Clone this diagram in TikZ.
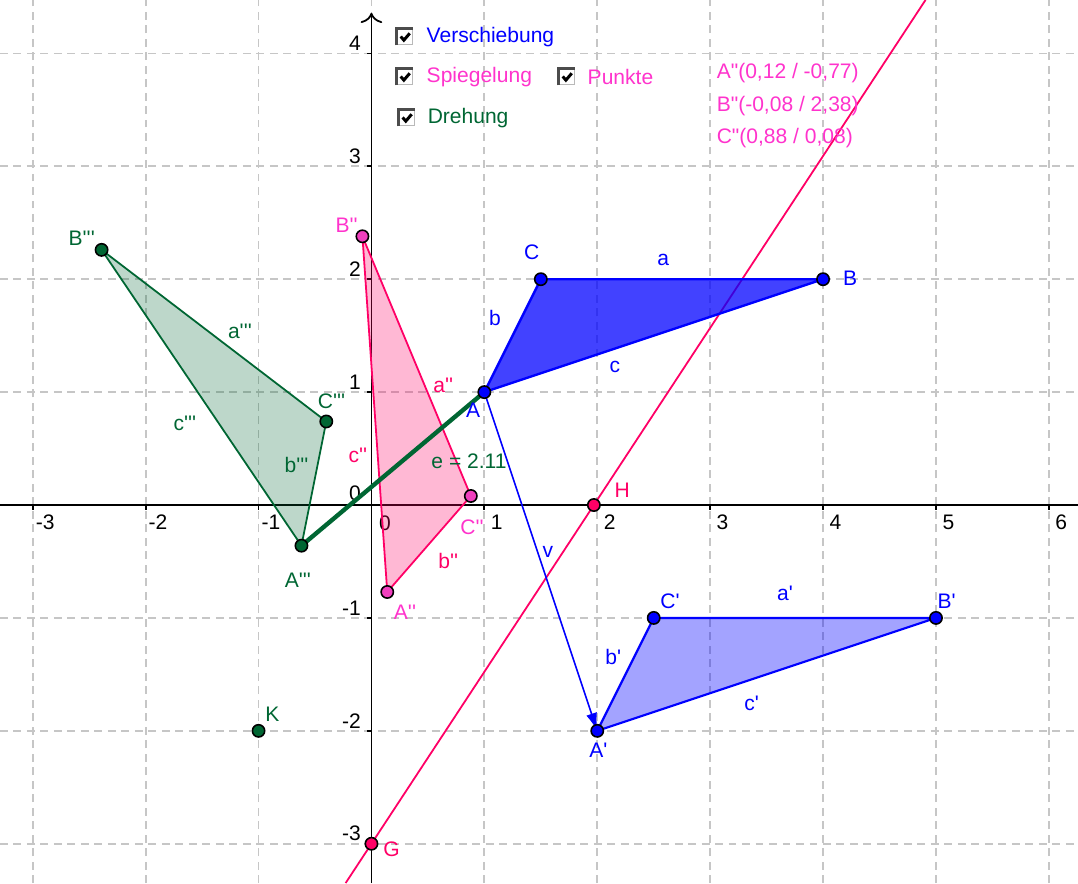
\documentclass[tikz,border=0pt]{standalone}
\usepackage{fontspec}
\setmainfont{Liberation Sans}[Ligatures=TeXOff]
\usetikzlibrary{arrows.meta,calc}

\definecolor{ggblue}{RGB}{0,0,255}
\definecolor{ggmagenta}{RGB}{255,51,204}
\definecolor{ggpoint}{RGB}{240,64,190}
\definecolor{ggcrimson}{RGB}{255,0,102}
\definecolor{gggreen}{RGB}{0,102,51}

\tikzset{
  gridline/.style={gray!45,line width=0.45pt,dash pattern=on 2pt off 1.4pt},
  pt/.style={circle,draw=black,line width=0.4pt,inner sep=0pt,minimum size=3.1pt},
  lbl/.style={inner sep=0.5pt},
  chkbox/.style={draw=gray!55,fill=white,line width=0.4pt,minimum size=0.135cm,inner sep=0pt},
}

\begin{document}
\begin{tikzpicture}[font=\fontsize{5.3}{6.4}\selectfont]
  \useasboundingbox (-3.29,-3.348) rectangle (6.258,4.473);
  % grid and axes
  \foreach \x in {-3,...,6} \draw[gridline] (\x,-3.348)--(\x,4.473);
  \foreach \y in {-3,...,4} \draw[gridline] (-3.29,\y)--(6.258,\y);
  \draw[line width=0.45pt] (-3.29,0)--(6.258,0);
  \draw[line width=0.45pt,->] (0,-3.348)--(0,4.36);
  \foreach \x in {-3,-2,-1,1,2,3,4,5,6} {
    \draw[line width=0.45pt] (\x,0)--(\x,-0.04);
    \node[lbl] (xl\x) at (\x+0.11,-0.15) {\x};
  }
  \foreach \y in {-3,-2,-1,1,2,3,4} {
    \draw[line width=0.45pt] (0,\y)--(-0.04,\y);
    \node[lbl,anchor=east] (yl\y) at (-0.07,\y+0.09) {\y};
  }
  \node[lbl] (xl0) at (0.12,-0.16) {0};
  \node[lbl,anchor=east] (yl0) at (-0.07,0.1) {0};

  % points
  \coordinate (A) at (1,1);       \coordinate (B) at (4,2);      \coordinate (C) at (1.5,2);
  \coordinate (A1) at (2,-2);     \coordinate (B1) at (5,-1);    \coordinate (C1) at (2.5,-1);
  \coordinate (A2) at (0.14,-0.77); \coordinate (B2) at (-0.08,2.38); \coordinate (C2) at (0.88,0.08);
  \coordinate (A3) at (-0.62,-0.36); \coordinate (B3) at (-2.39,2.26); \coordinate (C3) at (-0.40,0.74);
  \coordinate (K) at (-1,-2);
  \coordinate (G) at (0,-3);      \coordinate (H) at (1.97,0);

  % mirror line
  \draw[ggcrimson,line width=0.45pt] ($(G)!-0.116!(H)$)--($(G)!2.491!(H)$);

  % triangles
  \fill[gggreen,opacity=0.26] (A3)--(B3)--(C3)--cycle;
  \draw[gggreen,line width=0.45pt] (A3)--(C3)--(B3)--cycle;
  \fill[ggcrimson,opacity=0.28] (A2)--(B2)--(C2)--cycle;
  \draw[ggcrimson,line width=0.45pt] (A2)--(C2)--(B2)--cycle;
  \fill[ggblue,opacity=0.36] (A1)--(B1)--(C1)--cycle;
  \draw[ggblue,line width=0.55pt] (A1)--(C1)--(B1)--cycle;
  \fill[ggblue,opacity=0.74] (A)--(B)--(C)--cycle;
  \draw[ggblue,line width=0.6pt] (A)--(C)--(B)--cycle;

  % vector v and segment e
  \draw[ggblue,line width=0.4pt,-{Latex[length=4.5pt,width=2.8pt]}] (A)--(A1);
  \draw[gggreen,line width=1.1pt] (A3)--(A);

  % point marks
  \foreach \p in {A,B,C,A1,B1,C1} \node[pt,fill=ggblue] (p\p) at (\p) {};
  \foreach \p in {A2,B2,C2} \node[pt,fill=ggpoint] (p\p) at (\p) {};
  \foreach \p in {A3,B3,C3,K} \node[pt,fill=gggreen] (p\p) at (\p) {};
  \foreach \p in {G,H} \node[pt,fill=ggcrimson] (p\p) at (\p) {};

  % labels blue
  \node[lbl,text=ggblue] (lA) at (0.90,0.84) {A};
  \node[lbl,text=ggblue] (lB) at (4.24,2.01) {B};
  \node[lbl,text=ggblue] (lC) at (1.42,2.24) {C};
  \node[lbl,text=ggblue] (la) at (2.585,2.17) {a};
  \node[lbl,text=ggblue] (lb) at (1.094,1.654) {b};
  \node[lbl,text=ggblue] (lc) at (2.157,1.225) {c};
  \node[lbl,text=ggblue] (lA1) at (2.01,-2.17) {A'};
  \node[lbl,text=ggblue] (lB1) at (5.095,-0.856) {B'};
  \node[lbl,text=ggblue] (lC1) at (2.644,-0.856) {C'};
  \node[lbl,text=ggblue] (la1) at (3.663,-0.782) {a'};
  \node[lbl,text=ggblue] (lb1) at (2.142,-1.344) {b'};
  \node[lbl,text=ggblue] (lc1) at (3.368,-1.757) {c'};
  \node[lbl,text=ggblue] (lv) at (1.563,-0.416) {v};
  % labels pink
  \node[lbl,text=ggmagenta] (lA2) at (0.297,-0.948) {A''};
  \node[lbl,text=ggmagenta] (lB2) at (-0.22,2.48) {B''};
  \node[lbl,text=ggmagenta] (lC2) at (0.89,-0.195) {C''};
  \node[lbl,text=ggcrimson] (la2) at (0.636,1.063) {a''};
  \node[lbl,text=ggcrimson] (lb2) at (0.68,-0.5) {b''};
  \node[lbl,text=ggcrimson] (lc2) at (-0.12,0.443) {c''};
  \node[lbl,text=ggcrimson] (lG) at (0.179,-3.05) {G};
  \node[lbl,text=ggcrimson] (lH) at (2.22,0.133) {H};
  % labels green
  \node[lbl,text=gggreen] (lA3) at (-0.651,-0.664) {A'''};
  \node[lbl,text=gggreen] (lB3) at (-2.566,2.364) {B'''};
  \node[lbl,text=gggreen] (lC3) at (-0.353,0.915) {C'''};
  \node[lbl,text=gggreen] (la3) at (-1.165,1.535) {a'''};
  \node[lbl,text=gggreen] (lb3) at (-0.663,0.354) {b'''};
  \node[lbl,text=gggreen] (lc3) at (-1.652,0.726) {c'''};
  \node[lbl,text=gggreen] (lK) at (-0.878,-1.851) {K};
  \node[lbl,text=gggreen] (le) at (0.864,0.384) {e = 2.11};

  % check boxes
  \foreach \nm/\x/\y in {cbV/0.297/4.145,cbS/0.297/3.791,cbP/1.732/3.791,cbD/0.314/3.428} {
    \node[chkbox] (\nm) at (\x,\y) {};
    \draw[gray!60!black,line width=0.6pt] (\nm.south west)--(\nm.north west)--(\nm.north east);
    \draw[line width=0.75pt] ($(\nm)+(-0.038,0.005)$)--($(\nm)+(-0.01,-0.028)$)--($(\nm)+(0.042,0.033)$);
  }
  \node[lbl,anchor=west,text=ggblue] (tV) at (0.465,4.145) {Verschiebung};
  \node[lbl,anchor=west,text=ggmagenta] (tS) at (0.465,3.791) {Spiegelung};
  \node[lbl,anchor=west,text=ggmagenta] (tP) at (1.891,3.791) {Punkte};
  \node[lbl,anchor=west,text=gggreen] (tD) at (0.474,3.428) {Drehung};

  % coordinates text
  \node[lbl,anchor=west,text=ggmagenta] (cA2) at (3.034,3.826) {A"(0,12 / -0,77)};
  \node[lbl,anchor=west,text=ggmagenta] (cB2) at (3.034,3.534) {B"(-0,08 / 2,38)};
  \node[lbl,anchor=west,text=ggmagenta] (cC2) at (3.034,3.251) {C"(0,88 / 0,08)};
\end{tikzpicture}
\end{document}
